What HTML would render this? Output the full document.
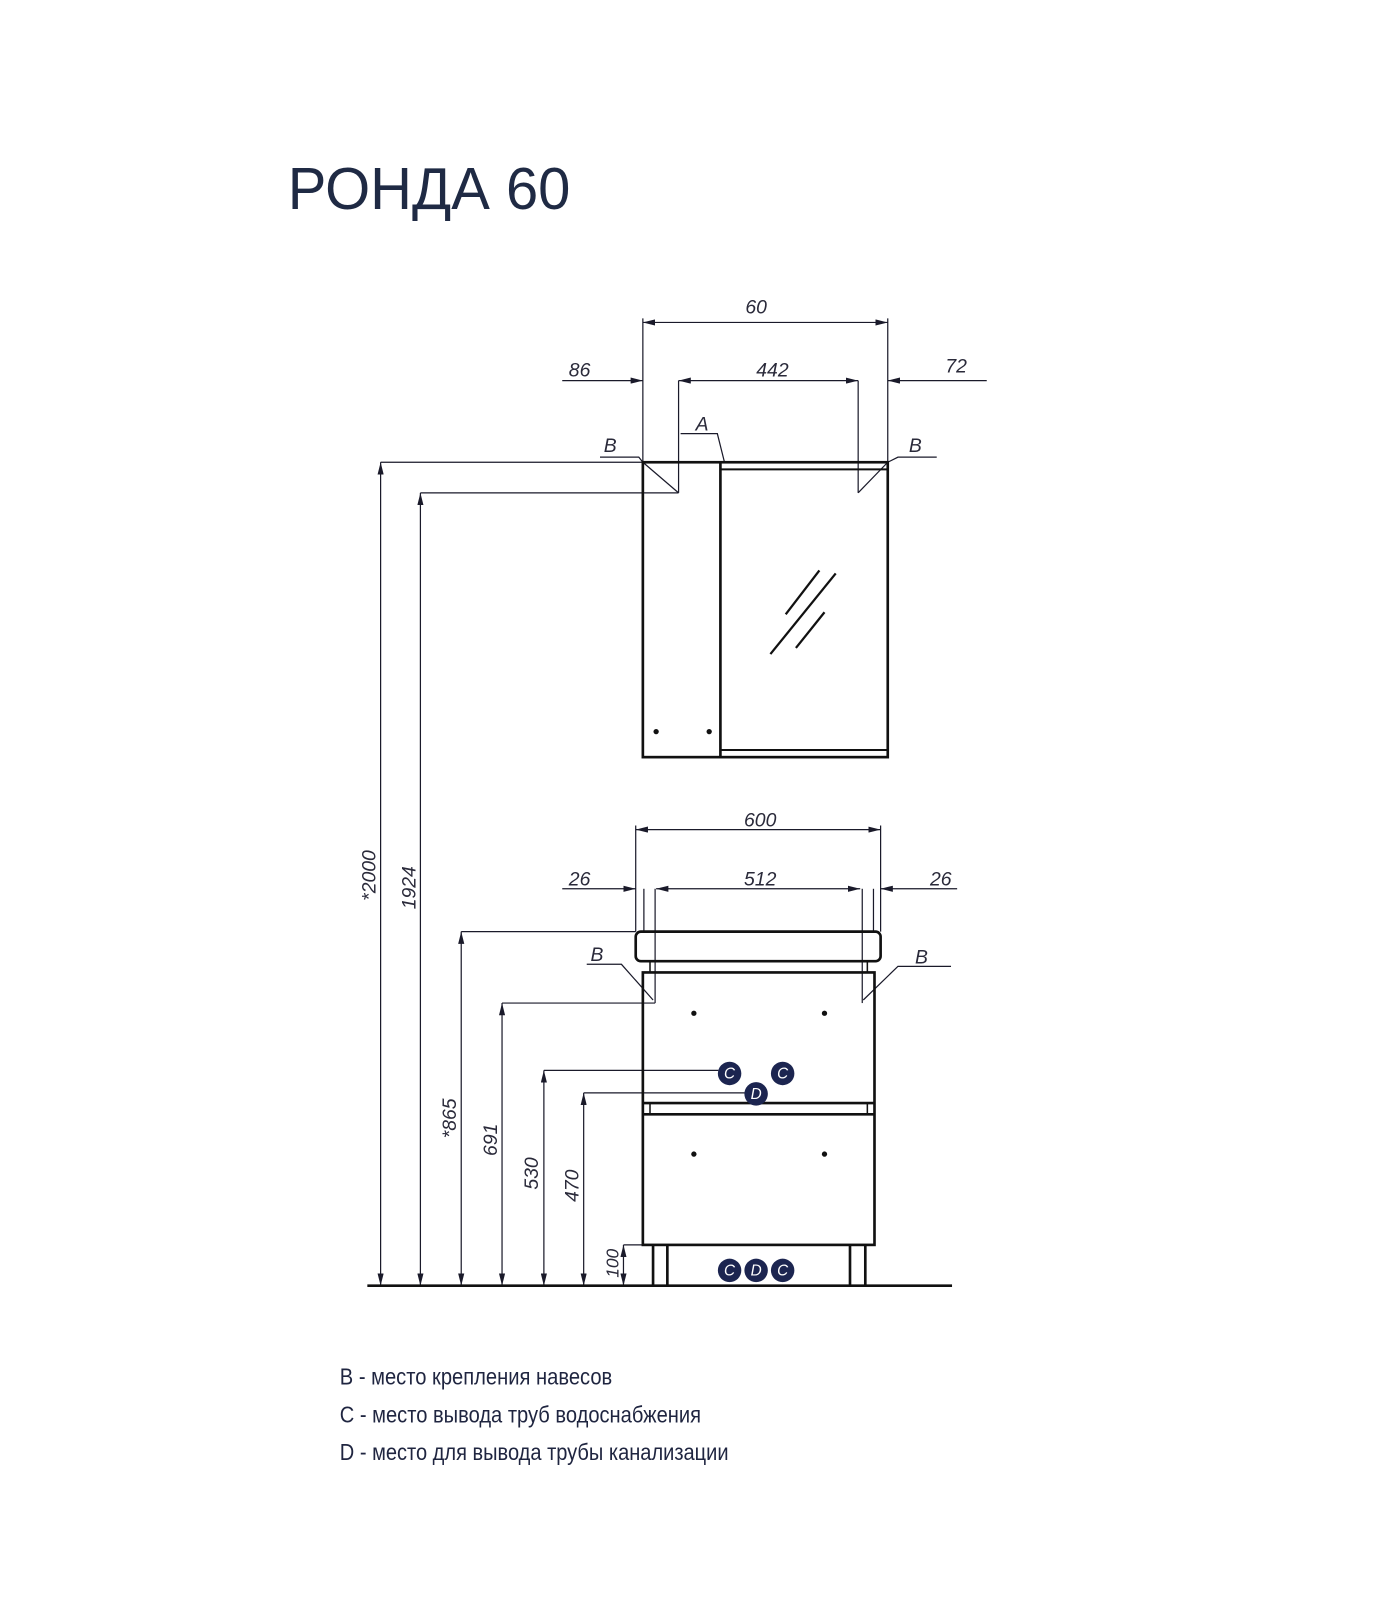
<!DOCTYPE html>
<html><head><meta charset="utf-8"><style>
html,body{margin:0;padding:0;background:#fff;}
svg{display:block;}
.d{font-family:"Liberation Sans",sans-serif;font-style:italic;font-size:19px;fill:#2a2a3a;}
.c{font-family:"Liberation Sans",sans-serif;font-style:italic;font-size:15px;fill:#fff;}
.l{font-family:"Liberation Sans","DejaVu Sans",sans-serif;font-size:23px;fill:#1f2540;}
</style></head><body>
<svg width="1400" height="1600" viewBox="0 0 1372 1568" xmlns="http://www.w3.org/2000/svg">
<defs>
<marker id="a" viewBox="0 0 12 6" refX="12" refY="3" markerWidth="12" markerHeight="6" markerUnits="userSpaceOnUse" orient="auto-start-reverse"><path d="M0,0L12,3L0,6z" fill="#1a1a2a"/></marker>
</defs>
<text x="282" y="205" font-family="Liberation Sans, sans-serif" font-size="58" fill="#1f2a44" textLength="277" lengthAdjust="spacingAndGlyphs">РОНДА 60</text>

<g stroke="#1a1a2a" stroke-width="1.2" fill="none">
<line x1="630" y1="316" x2="870" y2="316" marker-start="url(#a)" marker-end="url(#a)"/>
<line x1="630" y1="312" x2="630" y2="453"/>
<line x1="870" y1="312" x2="870" y2="453"/>
<line x1="551" y1="373" x2="630" y2="373" marker-end="url(#a)"/>
<line x1="665" y1="373" x2="841" y2="373" marker-start="url(#a)" marker-end="url(#a)"/>
<line x1="967" y1="373" x2="870" y2="373" marker-end="url(#a)"/>
<line x1="665" y1="373" x2="665" y2="483"/>
<line x1="841" y1="373" x2="841" y2="483"/>
<line x1="630" y1="453" x2="665" y2="483"/>
<line x1="841" y1="483" x2="870" y2="453"/>
<line x1="373" y1="453" x2="630" y2="453"/>
<line x1="412" y1="483" x2="665" y2="483"/>
<polyline points="588,448 626,448 630,453"/>
<polyline points="870,453 880,448 918,448"/>
<polyline points="667,425 703,425 710,453"/>
<line x1="373" y1="453" x2="373" y2="1260" marker-start="url(#a)" marker-end="url(#a)"/>
<line x1="412" y1="483" x2="412" y2="1260" marker-start="url(#a)" marker-end="url(#a)"/>
<line x1="452" y1="913" x2="452" y2="1260" marker-start="url(#a)" marker-end="url(#a)"/>
<line x1="492" y1="983" x2="492" y2="1260" marker-start="url(#a)" marker-end="url(#a)"/>
<line x1="533" y1="1049" x2="533" y2="1260" marker-start="url(#a)" marker-end="url(#a)"/>
<line x1="572" y1="1071" x2="572" y2="1260" marker-start="url(#a)" marker-end="url(#a)"/>
<line x1="611" y1="1220" x2="611" y2="1260" marker-start="url(#a)" marker-end="url(#a)"/>
<line x1="611" y1="1220" x2="630" y2="1220"/>
<line x1="452" y1="913" x2="623" y2="913"/>
<line x1="492" y1="983" x2="642" y2="983"/>
<line x1="533" y1="1049" x2="704" y2="1049"/>
<line x1="572" y1="1071" x2="730" y2="1071"/>
<line x1="623" y1="813" x2="863" y2="813" marker-start="url(#a)" marker-end="url(#a)"/>
<line x1="623" y1="809" x2="623" y2="913"/>
<line x1="863" y1="809" x2="863" y2="913"/>
<line x1="551" y1="871" x2="623" y2="871" marker-end="url(#a)"/>
<line x1="643" y1="871" x2="843" y2="871" marker-start="url(#a)" marker-end="url(#a)"/>
<line x1="938" y1="871" x2="863" y2="871" marker-end="url(#a)"/>
<line x1="631" y1="871" x2="631" y2="913"/>
<line x1="642" y1="871" x2="642" y2="983"/>
<line x1="845" y1="871" x2="845" y2="983"/>
<line x1="856" y1="871" x2="856" y2="913"/>
<polyline points="575,945 609,945 640,980"/>
<polyline points="846,980 880,947 932,947"/>
</g>

<g stroke="#111" stroke-width="2.6" fill="none">
<rect x="630" y="453" width="240" height="289"/>
<line x1="706" y1="453" x2="706" y2="742"/>
<line x1="706" y1="460" x2="870" y2="460" stroke-width="2"/>
<line x1="706" y1="735" x2="870" y2="735" stroke-width="2"/>
<line x1="770" y1="602" x2="803" y2="559" stroke-width="2.2"/>
<line x1="755" y1="641" x2="819" y2="562" stroke-width="2.2"/>
<line x1="780" y1="635" x2="808" y2="600" stroke-width="2.2"/>
<rect x="623" y="913" width="240" height="29" rx="5"/>
<rect x="630" y="953" width="227" height="267"/>
<line x1="637" y1="942" x2="637" y2="953" stroke-width="1.5"/>
<line x1="850" y1="942" x2="850" y2="953" stroke-width="1.5"/>
<line x1="630" y1="1081" x2="857" y2="1081"/>
<line x1="630" y1="1092" x2="857" y2="1092"/>
<line x1="637" y1="1081" x2="637" y2="1092" stroke-width="1.5"/>
<line x1="850" y1="1081" x2="850" y2="1092" stroke-width="1.5"/>
<line x1="640" y1="1220" x2="640" y2="1260"/>
<line x1="654" y1="1220" x2="654" y2="1260"/>
<line x1="833" y1="1220" x2="833" y2="1260"/>
<line x1="848" y1="1220" x2="848" y2="1260"/>
<line x1="360" y1="1260" x2="933" y2="1260"/>
</g>

<g fill="#111">
<circle cx="643" cy="717" r="2.6"/><circle cx="695" cy="717" r="2.6"/>
<circle cx="680" cy="993" r="2.6"/><circle cx="808" cy="993" r="2.6"/>
<circle cx="680" cy="1131" r="2.6"/><circle cx="808" cy="1131" r="2.6"/>
</g>
<g fill="#1c2550">
<circle cx="715" cy="1052" r="11.5"/><circle cx="767" cy="1052" r="11.5"/><circle cx="741" cy="1072" r="11.5"/>
<circle cx="715" cy="1245" r="11.5"/><circle cx="741" cy="1245" r="11.5"/><circle cx="767" cy="1245" r="11.5"/>
</g>
<g class="c" text-anchor="middle">
<text x="715" y="1057">C</text><text x="767" y="1057">C</text><text x="741" y="1077">D</text>
<text x="715" y="1250">C</text><text x="741" y="1250">D</text><text x="767" y="1250">C</text>
</g>

<g class="d" text-anchor="middle">
<text x="741" y="307">60</text>
<text x="568" y="369">86</text>
<text x="757" y="369">442</text>
<text x="937" y="365">72</text>
<text x="598" y="443">B</text>
<text x="897" y="443">B</text>
<text x="688" y="422">A</text>
<text x="745" y="810">600</text>
<text x="568" y="868">26</text>
<text x="745" y="868">512</text>
<text x="922" y="868">26</text>
<text x="585" y="942">B</text>
<text x="903" y="944">B</text>
<text transform="translate(368,858) rotate(-90)">*2000</text>
<text transform="translate(407,870) rotate(-90)">1924</text>
<text transform="translate(447,1096) rotate(-90)">*865</text>
<text transform="translate(487,1117) rotate(-90)">691</text>
<text transform="translate(527,1150) rotate(-90)">530</text>
<text transform="translate(567,1162) rotate(-90)">470</text>
<text transform="translate(606,1238) rotate(-90)" font-size="17">100</text>
</g>

<text class="l" x="333" y="1357" textLength="267" lengthAdjust="spacingAndGlyphs">B - место крепления навесов</text>
<text class="l" x="333" y="1394" textLength="354" lengthAdjust="spacingAndGlyphs">C - место вывода труб водоснабжения</text>
<text class="l" x="333" y="1431" textLength="381" lengthAdjust="spacingAndGlyphs">D - место для вывода трубы канализации</text>
</svg>
</body></html>
